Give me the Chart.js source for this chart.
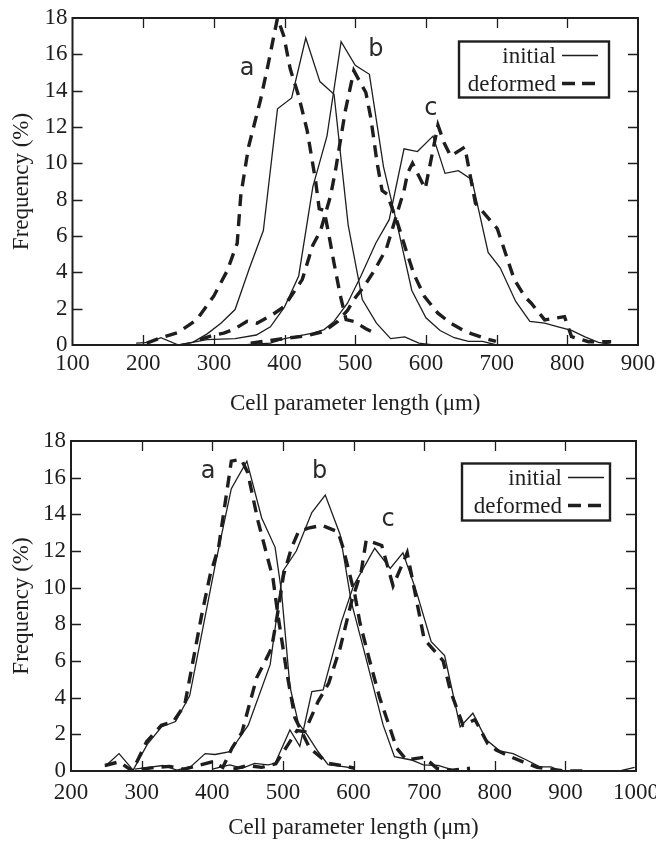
<!DOCTYPE html>
<html>
<head>
<meta charset="utf-8">
<script src="https://cdn.jsdelivr.net/npm/chart.js@4/dist/chart.umd.min.js"></script>
<style>
  body { margin: 0; background: #fff; }
  canvas { display: block; }
</style>
</head>
<body>
<canvas id="chartTop" width="656" height="420"></canvas>
<canvas id="chartBottom" width="656" height="428"></canvas>
<script>
// ---- top panel: cell parameter length (um) / frequency (%) ----
var topAInitX = [190, 210, 225, 250, 270, 290, 310, 330, 350, 370, 390, 410, 430, 450, 470, 490, 510, 530, 550, 570, 590, 610];
var topAInitY = [0.1, 0.15, 0.4, 0.0, 0.15, 0.6, 1.2, 1.95, 4.2, 6.3, 13.0, 13.6, 16.9, 14.5, 13.8, 6.6, 2.5, 1.2, 0.35, 0.45, 0.1, 0.0];
var topADefX = [205, 225, 250, 276, 300, 319, 333, 338, 349, 366, 376, 390, 399, 408, 420, 432, 444, 449, 456, 463, 470, 479, 487, 498, 515, 530];
var topADefY = [0.1, 0.4, 0.7, 1.4, 2.7, 4.1, 5.6, 8.2, 10.9, 13.5, 15.3, 18.0, 17.0, 15.2, 13.7, 11.8, 9.0, 7.5, 7.4, 6.0, 4.5, 2.7, 1.4, 1.3, 0.9, 0.6];
var topBInitX = [250, 290, 330, 360, 380, 400, 420, 440, 460, 480, 500, 520, 540, 560, 580, 600, 620, 640, 660, 680, 700];
var topBInitY = [0.0, 0.3, 0.35, 0.55, 1.0, 2.1, 3.8, 8.7, 11.5, 16.7, 15.4, 14.9, 9.8, 6.5, 3.0, 1.5, 0.8, 0.4, 0.2, 0.2, 0.0];
var topBDefX = [280, 300, 314, 330, 347, 361, 384, 399, 425, 440, 451, 465, 472, 486, 498, 515, 522, 531, 538, 545, 560, 572, 583, 598, 617, 635, 652, 664, 683, 699];
var topBDefY = [0.3, 0.55, 0.65, 0.9, 1.3, 1.2, 1.7, 2.1, 3.6, 5.5, 6.3, 8.2, 9.6, 12.9, 15.1, 13.9, 12.5, 10.0, 8.5, 8.3, 6.7, 5.2, 3.9, 2.66, 1.75, 1.2, 0.83, 0.63, 0.37, 0.2];
var topCInitX = [340, 380, 400, 420, 440, 456, 470, 489, 508, 529, 548, 569, 588, 610, 627, 646, 665, 688, 705, 727, 747, 768, 787, 806, 825, 844, 860];
var topCInitY = [0.0, 0.1, 0.35, 0.5, 0.65, 0.85, 1.3, 2.3, 3.8, 5.6, 6.9, 10.8, 10.65, 11.5, 9.45, 9.6, 9.1, 5.1, 4.25, 2.4, 1.3, 1.2, 1.0, 0.8, 0.45, 0.15, 0.05];
var topCDefX = [352, 380, 401, 430, 456, 475, 489, 498, 512, 527, 544, 569, 574, 581, 599, 617, 626, 635, 655, 670, 690, 701, 725, 740, 749, 768, 796, 806, 830, 862];
var topCDefY = [0.1, 0.25, 0.37, 0.5, 0.75, 1.3, 1.9, 2.5, 3.2, 4.1, 5.3, 8.5, 9.45, 10.0, 8.6, 12.1, 11.1, 10.4, 10.9, 7.8, 6.9, 6.4, 3.6, 2.66, 2.3, 1.38, 1.56, 0.46, 0.18, 0.18];

// ---- bottom panel ----
var botAInitX = [248, 268, 288, 308, 328, 348, 368, 404, 427, 449, 470, 489, 498, 510, 522, 534, 550, 564, 583, 602];
var botAInitY = [0.25, 0.95, 0.05, 1.45, 2.4, 2.7, 4.1, 11.2, 15.4, 16.9, 13.8, 12.2, 9.8, 4.6, 2.6, 2.0, 1.05, 0.35, 0.25, 0.15];
var botADefX = [248, 268, 287, 307, 328, 345, 361, 385, 397, 409, 427, 441, 450, 465, 486, 493, 505, 517, 538, 564, 583, 602];
var botADefY = [0.3, 0.5, 0.0, 1.6, 2.5, 2.7, 3.6, 8.5, 10.7, 12.2, 16.9, 17.0, 16.3, 13.6, 10.5, 8.5, 5.5, 2.9, 1.25, 0.42, 0.3, 0.15];
var botBInitX = [290, 310, 330, 350, 370, 390, 404, 425, 451, 482, 500, 519, 541, 560, 581, 597, 614, 642, 658, 682, 699, 720, 741];
var botBInitY = [0.1, 0.2, 0.3, 0.05, 0.25, 0.95, 0.9, 1.05, 2.5, 5.8, 10.9, 12.0, 14.1, 15.05, 12.9, 9.2, 6.7, 2.5, 0.78, 0.6, 0.33, 0.3, 0.05];
var botBDefX = [300, 320, 340, 360, 380, 400, 415, 428, 442, 451, 463, 475, 484, 493, 501, 512, 522, 536, 555, 578, 585, 602, 609, 623, 637, 652, 661, 675, 692, 700, 718, 740, 765];
var botBDefY = [0.1, 0.2, 0.25, 0.1, 0.3, 0.5, 0.2, 1.25, 2.1, 3.4, 5.1, 6.0, 6.7, 8.7, 10.7, 12.15, 13.05, 13.25, 13.4, 13.05, 12.2, 9.6, 8.1, 6.0, 4.0, 2.3, 1.25, 0.6, 0.7, 0.75, 0.15, 0.05, 0.15];
var botCInitX = [400, 425, 442, 460, 479, 489, 510, 524, 541, 557, 583, 600, 630, 652, 670, 689, 710, 729, 751, 769, 788, 807, 826, 845, 864, 880, 892, 977, 998];
var botCInitY = [0.1, 0.33, 0.15, 0.42, 0.33, 0.42, 2.24, 1.35, 4.33, 4.42, 8.15, 10.1, 12.15, 11.05, 11.9, 9.8, 7.05, 6.3, 2.4, 3.15, 1.7, 1.1, 0.95, 0.6, 0.23, 0.23, 0.0, 0.0, 0.2];
var botCDefX = [430, 450, 470, 490, 505, 520, 531, 550, 565, 581, 597, 611, 618, 640, 656, 676, 700, 727, 737, 755, 772, 790, 802, 821, 840, 860, 880, 900, 925];
var botCDefY = [0.1, 0.3, 0.2, 0.4, 1.3, 2.2, 2.15, 3.8, 4.8, 6.7, 9.2, 10.9, 12.6, 12.3, 10.1, 11.9, 7.2, 6.0, 4.4, 2.5, 2.8, 1.5, 1.15, 0.8, 0.5, 0.2, 0.1, 0.0, 0.0];

// curve letters (x in um, y in %)
var curveNames = ['a', 'b', 'c'];
var topNameX = [347, 529, 607];
var topNameY = [15.2, 16.25, 13.0];
var botNameX = [394, 552, 649];
var botNameY = [16.3, 16.3, 13.7];

var legendNames = ['initial', 'deformed'];

var INK = '#1e1e1e';
var SERIF = '"Liberation Serif", "Times New Roman", serif';

function toPoints(xs, ys) {
	var out = [];
	for (var i = 0; i < xs.length; i++) {
		out.push({x: xs[i], y: ys[i]});
	}
	return out;
}

function lineSet(label, xs, ys, deformed) {
	return {
		label: label,
		data: toPoints(xs, ys),
		showLine: true,
		borderColor: INK,
		borderWidth: deformed ? 3.4 : 1.3,
		borderDash: deformed ? [12, 8] : [],
		pointRadius: 0,
		tension: 0,
		fill: false
	};
}

// frame, inner ticks, curve letters and boxed legend
var framePlugin = {
	id: 'frame',
	afterDatasetsDraw: function(chart, args, opts) {
		var ctx = chart.ctx;
		var area = chart.chartArea;
		var xs = chart.scales.x;
		var ys = chart.scales.y;
		ctx.save();
		ctx.strokeStyle = INK;
		ctx.lineWidth = 1.3;
		ctx.beginPath();
		xs.ticks.forEach(function(t) {
			if (t.value <= xs.min || t.value >= xs.max) return;
			var px = Math.round(xs.getPixelForValue(t.value)) + 0.5;
			ctx.moveTo(px, area.bottom); ctx.lineTo(px, area.bottom - 10);
			ctx.moveTo(px, area.top); ctx.lineTo(px, area.top + 10);
		});
		ys.ticks.forEach(function(t) {
			if (t.value <= ys.min || t.value >= ys.max) return;
			var py = Math.round(ys.getPixelForValue(t.value)) + 0.5;
			ctx.moveTo(area.left, py); ctx.lineTo(area.left + 10, py);
			ctx.moveTo(area.right, py); ctx.lineTo(area.right - 10, py);
		});
		ctx.stroke();
		ctx.lineWidth = 2;
		ctx.strokeRect(area.left, area.top, area.right - area.left, area.bottom - area.top);

		// letters a b c
		ctx.fillStyle = '#2a2a2a';
		ctx.font = '24px "DejaVu Sans", sans-serif';
		ctx.textAlign = 'center';
		ctx.textBaseline = 'middle';
		for (var i = 0; i < curveNames.length; i++) {
			ctx.fillText(curveNames[i], xs.getPixelForValue(opts.nameX[i]), ys.getPixelForValue(opts.nameY[i]));
		}

		// legend box
		var bx = area.right - opts.legRight - opts.legW;
		var by = area.top + opts.legTop;
		ctx.fillStyle = '#fff';
		ctx.fillRect(bx, by, opts.legW, opts.legH);
		ctx.lineWidth = 2.4;
		ctx.strokeRect(bx, by, opts.legW, opts.legH);
		ctx.fillStyle = INK;
		ctx.font = '23px ' + SERIF;
		ctx.textAlign = 'right';
		ctx.textBaseline = 'middle';
		var rows = [by + 14, by + 42];
		for (var j = 0; j < legendNames.length; j++) {
			ctx.fillText(legendNames[j], bx + opts.textEdge, rows[j] + 1);
			ctx.beginPath();
			ctx.lineWidth = j === 0 ? 1.3 : 3.4;
			ctx.setLineDash(j === 0 ? [] : [13, 7]);
			ctx.moveTo(bx + opts.textEdge + 6, rows[j]);
			ctx.lineTo(bx + opts.textEdge + 42, rows[j]);
			ctx.stroke();
		}
		ctx.setLineDash([]);
		ctx.restore();
	}
};

function makeChart(id, sets, p) {
	var ctx = document.getElementById(id);
	return new Chart(ctx, {
		type: 'scatter',
		data: {datasets: sets},
		plugins: [framePlugin],
		options: {
			responsive: false,
			animation: false,
			devicePixelRatio: 1,
			layout: {padding: {top: p.top, right: p.right, left: 0, bottom: 0}},
			plugins: {
				legend: {display: false},
				tooltip: {enabled: false},
				frame: {
					nameX: p.nameX, nameY: p.nameY,
					legW: p.legW, legH: p.legH, legRight: p.legRight, legTop: p.legTop, textEdge: p.textEdge
				}
			},
			scales: {
				x: {
					type: 'linear',
					min: p.xMin,
					max: p.xMax,
					grid: {display: false, drawTicks: false},
					border: {display: false},
					ticks: {stepSize: 100, color: INK, padding: p.xTickPad, maxRotation: 0,
						font: {family: SERIF, size: 23},
						callback: function(v) { return String(v); }},
					title: {display: true, text: 'Cell parameter length (\u03bcm)', color: INK,
						font: {family: SERIF, size: 23}, padding: {top: 0, bottom: p.xTitlePad}},
					afterFit: function(s) { s.height = p.xHeight; s.paddingLeft = 0; s.paddingRight = 0; }
				},
				y: {
					min: 0,
					max: 18,
					grid: {display: false, drawTicks: false},
					border: {display: false},
					ticks: {stepSize: 2, color: INK, padding: 5,
						font: {family: SERIF, size: 23}},
					title: {display: true, text: 'Frequency (%)', color: INK,
						font: {family: SERIF, size: 23}, padding: {top: 8, bottom: 0}},
					afterFit: function(s) { s.width = p.yWidth; s.paddingTop = 0; s.paddingBottom = 0; }
				}
			}
		}
	});
}

makeChart('chartTop', [
	lineSet('a initial', topAInitX, topAInitY, false),
	lineSet('a deformed', topADefX, topADefY, true),
	lineSet('b initial', topBInitX, topBInitY, false),
	lineSet('b deformed', topBDefX, topBDefY, true),
	lineSet('c initial', topCInitX, topCInitY, false),
	lineSet('c deformed', topCDefX, topCDefY, true)
], {
	xMin: 100, xMax: 900, top: 18, right: 18, xHeight: 75, yWidth: 72.5,
	xTickPad: 5, xTitlePad: 2,
	nameX: topNameX, nameY: topNameY,
	legW: 150, legH: 56, legRight: 29, legTop: 23.5, textEdge: 97
});

makeChart('chartBottom', [
	lineSet('a initial', botAInitX, botAInitY, false),
	lineSet('a deformed', botADefX, botADefY, true),
	lineSet('b initial', botBInitX, botBInitY, false),
	lineSet('b deformed', botBDefX, botBDefY, true),
	lineSet('c initial', botCInitX, botCInitY, false),
	lineSet('c deformed', botCDefX, botCDefY, true)
], {
	xMin: 200, xMax: 1000, top: 21, right: 20, xHeight: 77, yWidth: 71,
	xTickPad: 8, xTitlePad: 6,
	nameX: botNameX, nameY: botNameY,
	legW: 148, legH: 57, legRight: 26, legTop: 22.5, textEdge: 100
});
</script>
</body>
</html>
